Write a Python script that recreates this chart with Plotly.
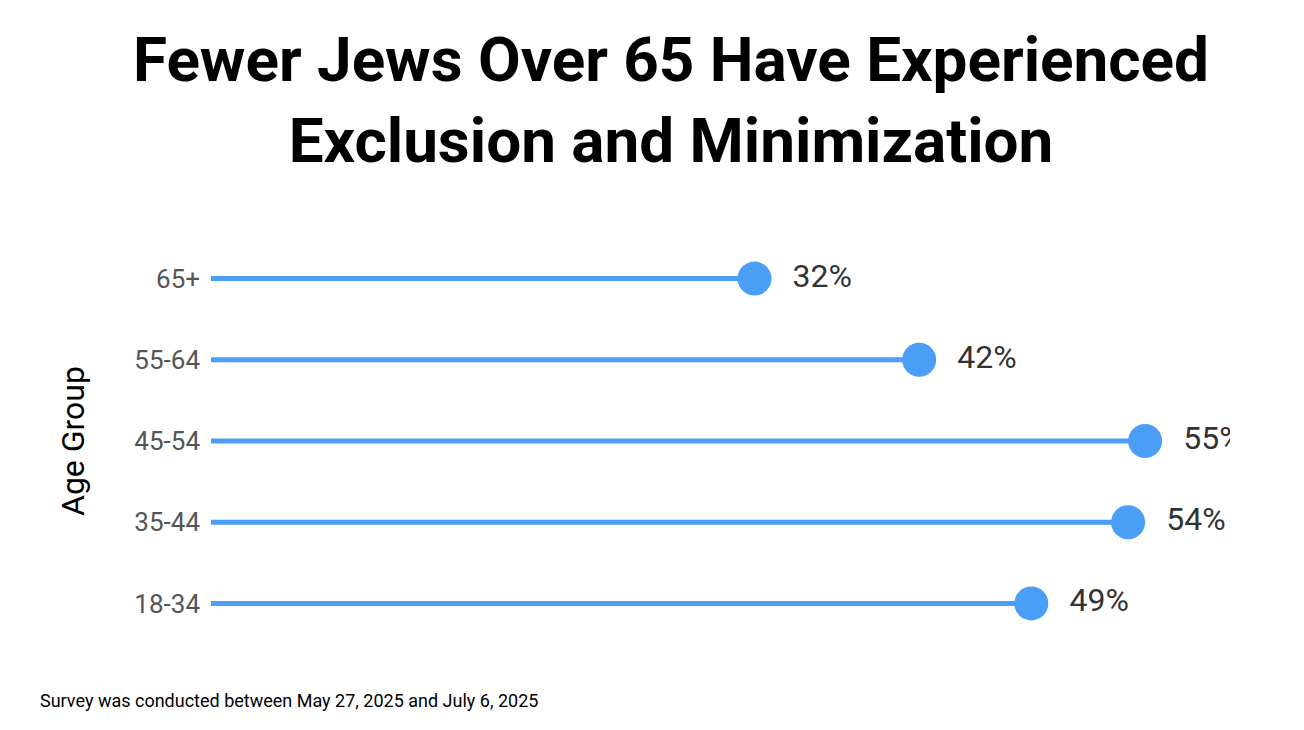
import plotly.graph_objects as go

groups = ["18-34", "35-44", "45-54", "55-64", "65+"]
values = [48.3, 54, 55, 41.7, 32]
labels = ["49%", "54%", "55%", "42%", "32%"]

blue = "#4a9ef5"
fig = go.Figure()
for g, v in zip(groups, values):
    fig.add_trace(go.Scatter(x=[0, v], y=[g, g], mode="lines",
                             line=dict(color=blue, width=5), showlegend=False, hoverinfo="skip"))
fig.add_trace(go.Scatter(x=values, y=groups, mode="markers+text", text=["  " + t for t in labels],
                         textposition="middle right",
                         textfont=dict(size=32, color="#333333", family="Roboto"),
                         marker=dict(size=34, color=blue), showlegend=False))

fig.update_layout(
    width=1304, height=730,
    plot_bgcolor="white", paper_bgcolor="white",
    margin=dict(l=203, r=82, t=230, b=94, autoexpand=False),
    xaxis=dict(range=[0, 60], visible=False),
    yaxis=dict(categoryorder="array", categoryarray=groups, range=[-0.5, 4.5],
               showgrid=False, zeroline=False, ticks="", ticklabelstandoff=10,
               tickfont=dict(size=26, color="#555555", family="Roboto"),
               title=dict(text="Age Group", standoff=40,
                          font=dict(size=32, color="black", family="Roboto"))),
    annotations=[
        dict(text="<b>Fewer Jews Over 65 Have Experienced<br>Exclusion and Minimization</b>",
             xref="paper", yref="paper", x=0.451, y=1.34, xanchor="center", yanchor="middle",
             showarrow=False, font=dict(size=62, color="black", family="Roboto")),
        dict(text="Survey was conducted between May 27, 2025 and July 6, 2025",
             xref="paper", yref="paper", x=-0.17, y=-0.14,
             xanchor="left", yanchor="middle", showarrow=False,
             font=dict(size=18, color="black", family="Roboto")),
    ],
)
fig.write_html("out.html")
